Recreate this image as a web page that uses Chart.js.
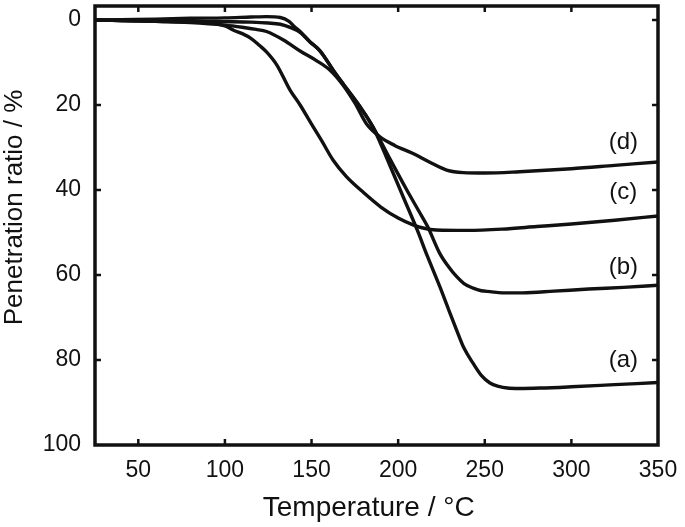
<!DOCTYPE html>
<html>
<head>
<meta charset="utf-8">
<script src="https://cdn.jsdelivr.net/npm/chart.js@4.4.1/dist/chart.umd.min.js"></script>
<style>
html, body { margin: 0; padding: 0; background: #fff; }
#wrap { width: 685px; height: 527px; }
</style>
</head>
<body>
<div id="wrap"><canvas id="myChart" width="685" height="527"></canvas></div>
<script>
// 温度(°C) と Penetration ratio(%) : 図から読み取った値
var temp_a  = [25, 40, 60, 80, 100, 115, 124, 132, 137, 140, 143.4, 149, 155, 162.5, 168, 178, 185.5, 195, 203, 211, 217, 224, 229, 233.8, 238, 243.3, 248, 253, 258, 263, 270, 282, 300, 325, 350];
var ratio_a = [0, -0.1, -0.2, -0.4, -0.5, -0.7, -0.8, -0.6, 0.3, 1.5, 2.7, 5.1, 7.3, 11.8, 14.9, 20.4, 25.2, 34, 41.7, 49.4, 55.7, 62.7, 68, 73, 77.2, 80.8, 83.6, 85.4, 86.2, 86.6, 86.7, 86.6, 86.3, 85.8, 85.3];

var temp_b  = [25, 40, 60, 80, 100, 115, 125, 132, 138, 143.4, 149, 155, 162.5, 168, 178, 185.5, 195, 205, 212, 217, 224, 229, 233.8, 238, 243.3, 248, 253, 260, 272, 290, 310, 330, 350];
var ratio_b = [0, 0.1, 0.2, 0.3, 0.4, 0.5, 0.7, 1.0, 1.8, 2.9, 5.1, 7.3, 11.8, 14.9, 20.4, 25.2, 32.5, 40, 45, 48.6, 54.9, 58, 60.4, 62, 63.1, 63.7, 63.9, 64.2, 64.2, 63.8, 63.3, 62.9, 62.4];

var temp_c  = [25, 40, 60, 80, 95, 100, 105, 110, 115, 120, 124, 130, 137.6, 143.4, 150, 156, 162.5, 170, 180, 190, 200, 208.6, 215, 222, 240, 260, 280, 300, 325, 350];
var ratio_c = [0, 0.1, 0.3, 0.5, 0.9, 1.4, 2.4, 3.2, 4.3, 6, 7.5, 10.6, 16.5, 20, 24.5, 28.5, 33, 36.8, 40.6, 44, 46.6, 48.2, 49, 49.4, 49.5, 49.2, 48.6, 48, 47.1, 46.1];

var temp_d  = [25, 40, 60, 80, 100, 110, 118, 124, 133.8, 143.4, 153, 160.7, 168, 175, 182, 189.5, 198, 208.6, 218, 228, 237.6, 250, 270, 300, 325, 350];
var ratio_d = [0, 0.1, 0.3, 0.6, 1.2, 1.7, 2.2, 2.7, 4.7, 7.3, 9.6, 11.8, 15.2, 19.5, 24.6, 27.5, 29.5, 31.4, 33.4, 35.3, 35.9, 36, 35.7, 35, 34.2, 33.4];

var xTicks = [50, 100, 150, 200, 250, 300, 350];	//x軸の目盛
var yTicks = [0, 20, 40, 60, 80, 100];				//y軸の目盛
var curveNames = ['(a)', '(b)', '(c)', '(d)'];		//曲線のラベル
var nameTemp = 330;									//ラベルの位置(温度)
var nameRatio = [80.2, 58.3, 40.5, 28.7];			//ラベルの位置(%)

var FONT = '"Liberation Sans", Arial, Helvetica, sans-serif';

function pairs(xs, ys) {
	return xs.map(function(x, i) { return {x: x, y: ys[i]}; });
}

/* 枠と内向きの目盛 */
var framePlugin = {
	id: 'frame',
	afterDatasetsDraw: function(chart) {
		var ctx = chart.ctx;
		var a = chart.chartArea;
		var xs = chart.scales.x, ys = chart.scales.y;
		var len = 6;
		ctx.save();
		ctx.strokeStyle = '#111';
		ctx.lineWidth = 2.5;
		ctx.beginPath();
		xTicks.forEach(function(v) {
			var px = xs.getPixelForValue(v);
			if (px <= a.left + 2 || px >= a.right - 2) return;
			ctx.moveTo(px, a.bottom); ctx.lineTo(px, a.bottom - len);
			ctx.moveTo(px, a.top); ctx.lineTo(px, a.top + len);
		});
		yTicks.forEach(function(v) {
			var py = ys.getPixelForValue(v);
			if (py <= a.top + 2 || py >= a.bottom - 2) return;
			ctx.moveTo(a.left, py); ctx.lineTo(a.left + len, py);
			ctx.moveTo(a.right, py); ctx.lineTo(a.right - len, py);
		});
		ctx.stroke();
		ctx.lineWidth = 3.5;
		ctx.strokeRect(a.left, a.top, a.right - a.left, a.bottom - a.top);

		// (a)〜(d) のラベル
		ctx.fillStyle = '#111';
		ctx.font = '24px ' + FONT;
		ctx.textAlign = 'center';
		ctx.textBaseline = 'middle';
		curveNames.forEach(function(n, i) {
			ctx.fillText(n, xs.getPixelForValue(nameTemp), ys.getPixelForValue(nameRatio[i]));
		});
		ctx.restore();
	}
};

function lineSet(label, xs, ys) {
	return {
		label: label,
		data: pairs(xs, ys),
		borderColor: '#111',
		borderWidth: 3.4,
		pointRadius: 0,
		fill: false,
		cubicInterpolationMode: 'monotone'
	};
}

var ctx = document.getElementById('myChart').getContext('2d');
var myChart = new Chart(ctx, {
	type: 'line',
	data: {
		datasets: [
			lineSet('(a)', temp_a, ratio_a),
			lineSet('(b)', temp_b, ratio_b),
			lineSet('(c)', temp_c, ratio_c),
			lineSet('(d)', temp_d, ratio_d)
		]
	},
	options: {
		responsive: false,
		animation: false,
		devicePixelRatio: 1,
		layout: { padding: { top: 6, right: 27, left: 0, bottom: 0 } },
		plugins: { legend: { display: false }, tooltip: { enabled: false } },
		scales: {
			x: {
				type: 'linear',
				min: 25,
				max: 350,
				grid: { display: false, drawTicks: false },
				border: { display: false },
				afterBuildTicks: function(axis) { axis.ticks = xTicks.map(function(v) { return {value: v}; }); },
				afterFit: function(s) { s.height = 82; s.paddingLeft = 0; s.paddingRight = 0; },
				ticks: { color: '#111', font: { size: 23, family: FONT }, padding: 12, maxRotation: 0, autoSkip: false },
				title: { display: true, text: 'Temperature / °C  ', color: '#111', font: { size: 28, family: FONT, lineHeight: 1 }, padding: { top: 0, bottom: 5 } }
			},
			y: {
				type: 'linear',
				reverse: true,
				min: -3.3,
				max: 100,
				grid: { display: false, drawTicks: false },
				border: { display: false },
				afterBuildTicks: function(axis) { axis.ticks = yTicks.map(function(v) { return {value: v}; }); },
				afterFit: function(s) { s.width = 95; s.paddingTop = 0; s.paddingBottom = 0; },
				ticks: { color: '#111', font: { size: 23, family: FONT }, padding: 14, autoSkip: false },
				title: { display: true, text: '     Penetration ratio / %', color: '#111', font: { size: 26, family: FONT, lineHeight: 1 }, padding: { top: 2, bottom: 0 } }
			}
		}
	},
	plugins: [framePlugin]
});
</script>
</body>
</html>
